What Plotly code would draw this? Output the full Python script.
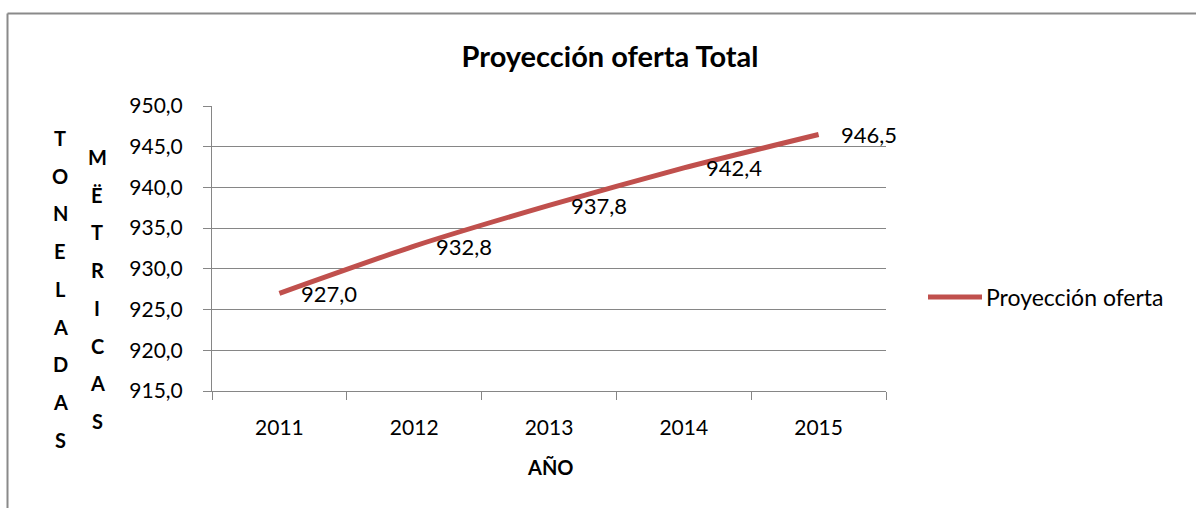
import plotly.graph_objects as go

# Supply projection per year (metric tons)
years = ["2011", "2012", "2013", "2014", "2015"]
supply = [927.0, 932.8, 937.8, 942.4, 946.5]
series_name = "Proyección oferta"
chart_title = "Proyección oferta Total"
x_title = "AÑO"
y_title_1 = "TONELADAS"
y_title_2 = "MËTRICAS"

LINE_COLOR = "#C0504D"
GRID_COLOR = "#868686"
FONT = "Lato, 'Open Sans', sans-serif"

W, H = 1196, 508
ML, MR, MT, MB = 212, 310, 106, 117
PW, PH = W - ML - MR, H - MT - MB


def px_to_paper_x(px):
    return (px - ML) / PW


def px_to_paper_y(py):
    return (H - MB - py) / PH


fig = go.Figure()
fig.add_trace(go.Scatter(
    x=years, y=supply, mode="lines", name=series_name,
    line=dict(color=LINE_COLOR, width=5, shape="spline", smoothing=0.6),
    hoverinfo="x+y", showlegend=False,
))

annotations = []
# value labels placed to the right of each point (x given as category index)
for i, v in enumerate(supply):
    annotations.append(dict(
        x=i, y=v, xref="x", yref="y", text=f"{v:.1f}".replace(".", ","),
        showarrow=False, xanchor="left", yanchor="middle", xshift=20,
        font=dict(family=FONT, size=22, color="#000000"),
    ))

# stacked vertical axis captions
for col_x, col_top, word in [(60, 138, y_title_1), (97, 157, y_title_2)]:
    for i, ch in enumerate(word):
        annotations.append(dict(
            x=px_to_paper_x(col_x), y=px_to_paper_y(col_top + i * 37.7),
            xref="paper", yref="paper", text=ch, showarrow=False,
            xanchor="center", yanchor="middle",
            font=dict(family=FONT, size=20, color="#000000", weight="bold"),
        ))

annotations.append(dict(
    x=px_to_paper_x(550), y=px_to_paper_y(467), xref="paper", yref="paper",
    text=x_title, showarrow=False, xanchor="center", yanchor="middle",
    font=dict(family=FONT, size=20, color="#000000", weight="bold"),
))

# legend entry: line sample and series name
annotations.append(dict(
    x=px_to_paper_x(984), y=px_to_paper_y(297), xref="paper", yref="paper",
    text=series_name, showarrow=False, xanchor="left", yanchor="middle",
    font=dict(family=FONT, size=23, color="#000000"),
))

shapes = [
    dict(type="line", xref="paper", yref="paper",
         x0=px_to_paper_x(928), x1=px_to_paper_x(982),
         y0=px_to_paper_y(297), y1=px_to_paper_y(297),
         line=dict(color=LINE_COLOR, width=5)),
    # outer frame (left and top edges)
    dict(type="line", xref="paper", yref="paper",
         x0=px_to_paper_x(7.5), x1=px_to_paper_x(7.5),
         y0=px_to_paper_y(13.5), y1=px_to_paper_y(520),
         line=dict(color="#8a8a8a", width=2)),
    dict(type="line", xref="paper", yref="paper",
         x0=px_to_paper_x(7.5), x1=px_to_paper_x(1210),
         y0=px_to_paper_y(13.5), y1=px_to_paper_y(13.5),
         line=dict(color="#8a8a8a", width=2)),
]

fig.update_layout(
    width=W, height=H,
    margin=dict(l=ML, r=MR, t=MT, b=MB, pad=0),
    paper_bgcolor="white", plot_bgcolor="white",
    separators=",.",
    font=dict(family=FONT, size=21, color="#000000"),
    title=dict(text=chart_title, x=px_to_paper_x(610), xref="paper",
               xanchor="center", y=1 - 57 / H, yanchor="middle",
               font=dict(family=FONT, size=29, color="#000000", weight="bold")),
    showlegend=False,
    xaxis=dict(type="category", range=[-0.5, 4.5], showgrid=False,
               showline=True, linecolor=GRID_COLOR, linewidth=1,
               ticks="outside", tickson="boundaries", ticklen=8,
               tickcolor=GRID_COLOR, ticklabelstandoff=18,
               tickfont=dict(family=FONT, size=21), zeroline=False),
    yaxis=dict(range=[915, 950], dtick=5, tick0=915, tickformat=".1f",
               showgrid=True, gridcolor=GRID_COLOR, gridwidth=1,
               showline=True, linecolor=GRID_COLOR, linewidth=1,
               ticks="outside", ticklen=8, tickcolor=GRID_COLOR,
               ticklabelstandoff=16, tickfont=dict(family=FONT, size=21),
               zeroline=False),
    annotations=annotations,
    shapes=shapes,
)

fig.write_html("out.html")
